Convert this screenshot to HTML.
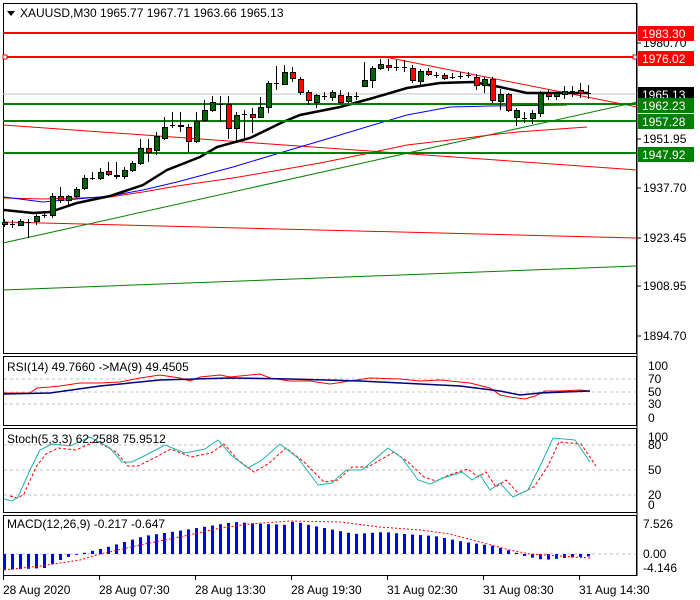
<!DOCTYPE html>
<html><head><meta charset="utf-8"><style>
html,body{margin:0;padding:0;background:#fff;}
svg{display:block;font-family:"Liberation Sans",sans-serif;}
text{font-size:12px;fill:#000;}
</style></head><body>
<svg id="s" width="700" height="600" xmlns="http://www.w3.org/2000/svg"></svg>
<script>
var o=[];
function L(a,c,w,d){o.push('<polyline fill="none" stroke="'+c+'" stroke-width="'+w+'"'+(d?' stroke-dasharray="'+d+'"':'')+' points="'+a.map(function(p){return p.join(',')}).join(' ')+'"/>');}
function T(x,y,t,a,c){o.push('<text x="'+x+'" y="'+y+'"'+(a?' text-anchor="'+a+'"':'')+(c?' style="fill:'+c+'"':'')+'>'+t+'</text>');}
function R(x,y,w,h,f,s){o.push('<rect x="'+x+'" y="'+y+'" width="'+w+'" height="'+h+'" fill="'+f+'"'+(s?' stroke="'+s+'" stroke-width="1"':'')+'/>');}
o.push('<rect x="3.5" y="3.5" width="633" height="350" fill="none" stroke="#000"/>');
o.push('<rect x="3.5" y="356.5" width="633" height="69" fill="none" stroke="#000"/>');
o.push('<rect x="3.5" y="428.5" width="633" height="84" fill="none" stroke="#000"/>');
o.push('<rect x="3.5" y="515.5" width="633" height="60" fill="none" stroke="#000"/>');
L([[3,94],[637,94]],'#c0c0c0',1);
L([[385,57],[637,107]],'#ff0000',1);
L([[3,125],[637,170]],'#ff0000',1);
L([[3,222],[637,238]],'#ff0000',1);
L([[3,243],[637,102]],'#008000',1);
L([[3,290],[637,266]],'#008000',1);
L([[4,198],[43,199],[110,197],[143,192],[177,186],[233,178],[280,170],[320,163],[360,155],[407,145],[450,140],[490,135],[517,132],[587,127]],'#ff0000',1);
L([[4,197],[43,202],[110,196],[143,190],[177,182],[233,167],[273,155],[320,141],[340,135],[373,125],[407,115],[450,107],[490,106],[567,105]],'#0000ff',1);
L([[4,210],[33,213],[50,212],[77,203],[110,196],[143,185],[167,170],[200,157],[217,147],[250,138],[283,122],[300,115],[320,111],[340,107],[373,98],[407,88],[440,83],[473,82],[500,87],[527,93],[540,93],[588,93]],'#000',2.5);
L([[3,33],[637,33]],'#ff0000',2);L([[3,57],[637,57]],'#ff0000',2);
L([[3,104],[637,104]],'#008000',2);L([[3,121],[637,121]],'#008000',2);L([[3,153],[637,153]],'#008000',2);
R(3,55,4,4,'#fff','#f00');R(633,55,4,4,'#fff','#f00');
var C=[[222,224,219,227],[224,224,220,228],[225,221,219,226],[222,222,219,238],[221,216,214,225],[215,215,212,218],[215,196,193,218],[196,200,187,203],[200,196,195,205],[196,189,187,198],[188,178,175,190],[178,178,172,180],[178,172,168,180],[171,174,162,176],[175,176,162,179],[176,170,167,179],[170,163,161,172],[163,148,139,165],[148,152,139,162],[150,136,132,155],[138,127,117,140],[125,125,112,128],[125,126,112,132],[127,141,124,152],[141,121,112,143],[120,110,100,122],[110,102,96,112],[104,104,96,122],[104,128,96,139],[128,115,112,143],[114,114,110,138],[114,117,108,133],[117,107,97,118],[107,83,81,113],[83,83,66,90],[84,72,65,85],[72,78,67,82],[79,92,77,95],[92,100,90,105],[102,95,94,108],[96,96,92,100],[97,92,90,101],[95,102,90,104],[101,96,92,103],[96,96,92,100],[86,80,62,87],[80,68,66,88],[68,64,59,70],[65,67,59,71],[67,67,60,71],[67,67,60,72],[68,80,65,83],[81,71,69,85],[71,74,68,76],[75,75,72,78],[75,78,73,80],[77,77,73,79],[76,76,72,79],[75,75,72,78],[77,85,74,90],[85,79,77,93],[79,100,77,103],[101,94,89,110],[94,110,93,112],[117,110,108,126],[118,118,112,123],[118,113,110,124],[113,93,91,117],[93,96,90,100],[96,93,92,100],[94,91,86,99],[91,91,86,97],[90,93,83,98],[93,93,85,99]];
C.forEach(function(c,i){var x=4+8*i;var t=Math.min(c[0],c[1]),b=Math.max(c[0],c[1]);
o.push('<line x1="'+(x+.5)+'" y1="'+c[2]+'" x2="'+(x+.5)+'" y2="'+c[3]+'" stroke="#000"/>');
if(b-t<1){o.push('<line x1="'+(x-2)+'" y1="'+(t+.5)+'" x2="'+(x+3)+'" y2="'+(t+.5)+'" stroke="#000"/>');}
else R(x-2+.5,t+.5,5,b-t,c[1]<c[0]?'#006400':'#ff0000','#000');});
o.push('<polygon points="7,11 15,11 11,16" fill="#000"/>');
T(20,17,'XAUUSD,M30  1965.77 1967.71 1963.66 1965.13');
o.push('<line x1="637" y1="3" x2="637" y2="576" stroke="#000"/>');
[[43,'1980.70'],[139,'1951.95'],[188,'1937.70'],[238,'1923.45'],[286,'1908.95'],[336,'1894.70']].forEach(function(a){o.push('<line x1="637" y1="'+a[0]+'" x2="641" y2="'+a[0]+'" stroke="#000"/>');T(643,a[0]+4,a[1]);});
function B(y,t,f){R(638,y-7,56,15,f);T(642,y+5,t,null,'#fff');}
B(33,'1983.30','#ff0000');B(58,'1976.02','#ff0000');B(94,'1965.13','#000');B(105,'1962.23','#008000');B(121,'1957.28','#008000');B(154,'1947.92','#008000');
[379,392,404].forEach(function(y){L([[4,y],[636,y]],'#c0c0c0',1,'3,3');});
[[366,'100'],[379,'70'],[392,'50'],[404,'30'],[418,'0']].forEach(function(a){T(648,a[0]+4,a[1]);});
T(7,371,'RSI(14) 49.7660  ->MA(9) 49.4505');
L([[4,393],[30,393],[37,388],[50,387],[60,386],[80,383],[100,383],[120,382],[140,378],[160,375],[180,378],[190,381],[200,377],[220,375],[230,377],[240,376],[260,374],[270,378],[290,381],[310,381],[330,384],[350,381],[370,378],[400,379],[420,381],[440,380],[470,383],[490,388],[500,395],[510,397],[525,399],[535,396],[545,391],[560,391],[580,390],[590,391]],'#ff0000',1);
L([[4,394],[50,393],[100,386],[160,380],[230,378],[290,379],[360,381],[460,386],[500,391],[520,395],[540,393],[590,391]],'#000080',1.5);
[445,470,495].forEach(function(y){L([[4,y],[636,y]],'#c0c0c0',1,'3,3');});
[[437,'100'],[445,'80'],[470,'50'],[495,'20'],[505,'0']].forEach(function(a){T(648,a[0]+4,a[1]);});
var st=[[4,499],[12,501],[18,497],[30,470],[40,450],[52,444],[70,446],[90,437],[110,448],[122,462],[132,462],[148,454],[165,445],[185,453],[205,449],[218,440],[232,456],[248,468],[262,460],[280,444],[298,458],[318,485],[332,483],[346,470],[362,470],[388,448],[402,458],[418,480],[430,484],[443,478],[462,472],[472,480],[480,475],[490,490],[500,483],[513,497],[528,490],[542,462],[553,438],[575,440],[590,462]];
L(st.map(function(p){return [p[0]+6,p[1]+ (p[1]<470?4:-3)];}),'#ff0000',1,'3,2');
L(st,'#20b2aa',1);
T(7,443,'Stoch(5,3,3) 62.2588 75.9512');
L([[4,554],[636,554]],'#c0c0c0',1,'3,3');
[[524,'7.526'],[554,'0.00'],[568,'-4.146']].forEach(function(a){T(643,a[0]+4,a[1]);});
var mv=[[0,-4],[40,-3.5],[60,-1],[75,0],[100,1.5],[140,4.5],[180,6],[230,8],[260,7.5],[280,7.3],[290,8.2],[300,7.5],[330,6],[350,5],[380,5.5],[400,5],[430,4.5],[460,3],[490,2],[510,0.5],[520,-0.5],[540,-1.5],[560,-1],[590,-0.5]];
function iv(x){for(var k=0;k<mv.length-1;k++){if(x>=mv[k][0]&&x<=mv[k+1][0]){var f=(x-mv[k][0])/(mv[k+1][0]-mv[k][0]);return mv[k][1]+f*(mv[k+1][1]-mv[k][1]);}}return -0.5;}
for(var i=0;i<74;i++){var x=4+8*i,v=iv(x-4),h=v*4;if(h>=0)R(x-1,554-h,3,h,'#0000ff');else R(x-1,554,3,-h,'#0000ff');}
L([[4,570],[40,566],[80,560],[100,554],[140,545],[180,537],[220,528],[250,524],[290,521],[340,522],[380,527],[420,530],[450,534],[480,542],[510,550],[530,554],[560,556],[590,558]],'#ff0000',1,'2,2');
T(7,528,'MACD(12,26,9) -0.217 -0.647');
[3,99,195,291,387,483,579].forEach(function(x){o.push('<line x1="'+(x+.5)+'" y1="576" x2="'+(x+.5)+'" y2="580" stroke="#000"/>');});
[[3,'28 Aug 2020'],[99,'28 Aug 07:30'],[195,'28 Aug 13:30'],[291,'28 Aug 19:30'],[387,'31 Aug 02:30'],[483,'31 Aug 08:30'],[579,'31 Aug 14:30']].forEach(function(a){T(a[0],594,a[1]);});
document.getElementById('s').innerHTML=o.join('');
</script>
</body></html>
